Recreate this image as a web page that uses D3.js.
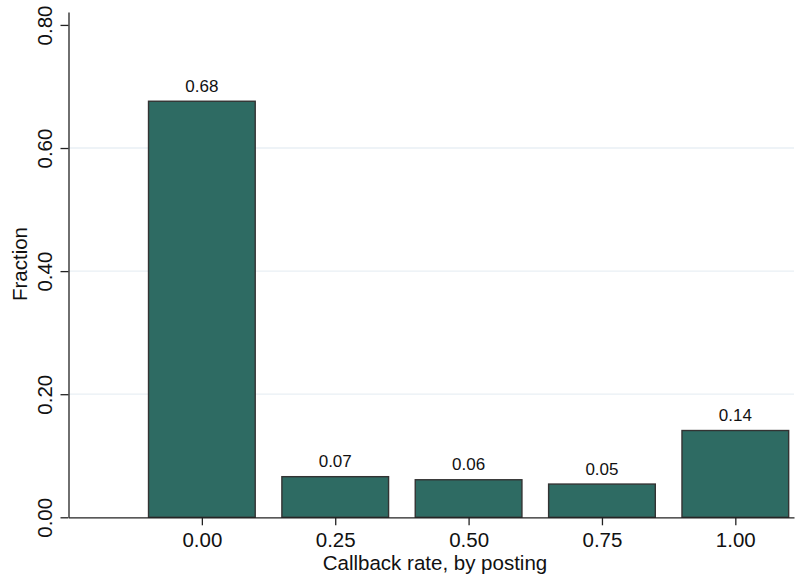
<!DOCTYPE html>
<html><head><meta charset="utf-8">
<script src="https://cdn.jsdelivr.net/npm/d3@7"></script>
<style>
body{margin:0;background:#fff;}
svg{display:block;font-family:"Liberation Sans",Arial,Helvetica,sans-serif;}
</style></head>
<body>
<svg id="c" width="795" height="579"></svg>
<script>
const categories = [0.00, 0.25, 0.50, 0.75, 1.00];
const fractions = [0.676, 0.066, 0.061, 0.054, 0.141];
const xTicks = [0.00, 0.25, 0.50, 0.75, 1.00];
const yTicks = [0.00, 0.20, 0.40, 0.60, 0.80];
const gridTicks = [0.20, 0.40, 0.60];

const svg = d3.select("#c");
const x = d3.scaleLinear().domain([-0.25, 1.11]).range([68.5, 794]);
const y = d3.scaleLinear().domain([0, 0.821]).range([517.3, 12]);
const fmt = d3.format(".2f");
const barW = x(0.1) - x(-0.1);

// gridlines
svg.append("g").selectAll("line").data(gridTicks).join("line")
  .attr("x1", x(-0.25)).attr("x2", x(1.11))
  .attr("y1", d => y(d)).attr("y2", d => y(d))
  .attr("stroke", "#e9eff4").attr("stroke-width", 1.3);

// bars
const data = categories.map((c, i) => ({c, v: fractions[i]}));
svg.append("g").selectAll("rect").data(data).join("rect")
  .attr("x", d => x(d.c) - barW / 2)
  .attr("width", barW)
  .attr("y", d => y(d.v))
  .attr("height", d => y(0) - y(d.v))
  .attr("fill", "#2e6b63")
  .attr("stroke", "#333333")
  .attr("stroke-width", 1.4);

// value labels
svg.append("g").selectAll("text").data(data).join("text")
  .attr("x", d => x(d.c))
  .attr("y", d => y(d.v) - 9.5)
  .attr("text-anchor", "middle")
  .attr("font-size", 17)
  .attr("fill", "#111")
  .text(d => fmt(d.v));

// x axis
const xAxis = d3.axisBottom(x).tickValues(xTicks).tickFormat(fmt).tickSize(8).tickSizeOuter(0);
const gx = svg.append("g").attr("transform", `translate(0,${y(0)})`).call(xAxis);
gx.select(".domain").attr("stroke", "#222").attr("stroke-width", 1.3);
gx.selectAll(".tick line").attr("stroke", "#222").attr("stroke-width", 1.3);
gx.selectAll(".tick text").attr("font-size", 20.5).attr("fill", "#111")
  .attr("font-family", "Liberation Sans, Arial, sans-serif").attr("dy", "0.71em").attr("y", 15);

// y axis
const yAxis = d3.axisLeft(y).tickValues(yTicks).tickFormat(fmt).tickSize(8).tickSizeOuter(0);
const gy = svg.append("g").attr("transform", `translate(${x(-0.25)},0)`).call(yAxis);
gy.select(".domain").attr("stroke", "#222").attr("stroke-width", 1.3);
gy.selectAll(".tick line").attr("stroke", "#222").attr("stroke-width", 1.3);
gy.selectAll(".tick text").attr("font-size", 20.5).attr("fill", "#111")
  .attr("font-family", "Liberation Sans, Arial, sans-serif")
  .attr("transform", "rotate(-90)")
  .attr("x", 0).attr("y", -17).attr("dy", 0).attr("text-anchor", "middle");

// axis titles
svg.append("text")
  .attr("x", 435).attr("y", 570)
  .attr("text-anchor", "middle").attr("font-size", 20.5).attr("fill", "#111")
  .text("Callback rate, by posting");
svg.append("text")
  .attr("transform", `translate(27,264) rotate(-90)`)
  .attr("text-anchor", "middle").attr("font-size", 20.5).attr("fill", "#111")
  .text("Fraction");
</script>
</body></html>
